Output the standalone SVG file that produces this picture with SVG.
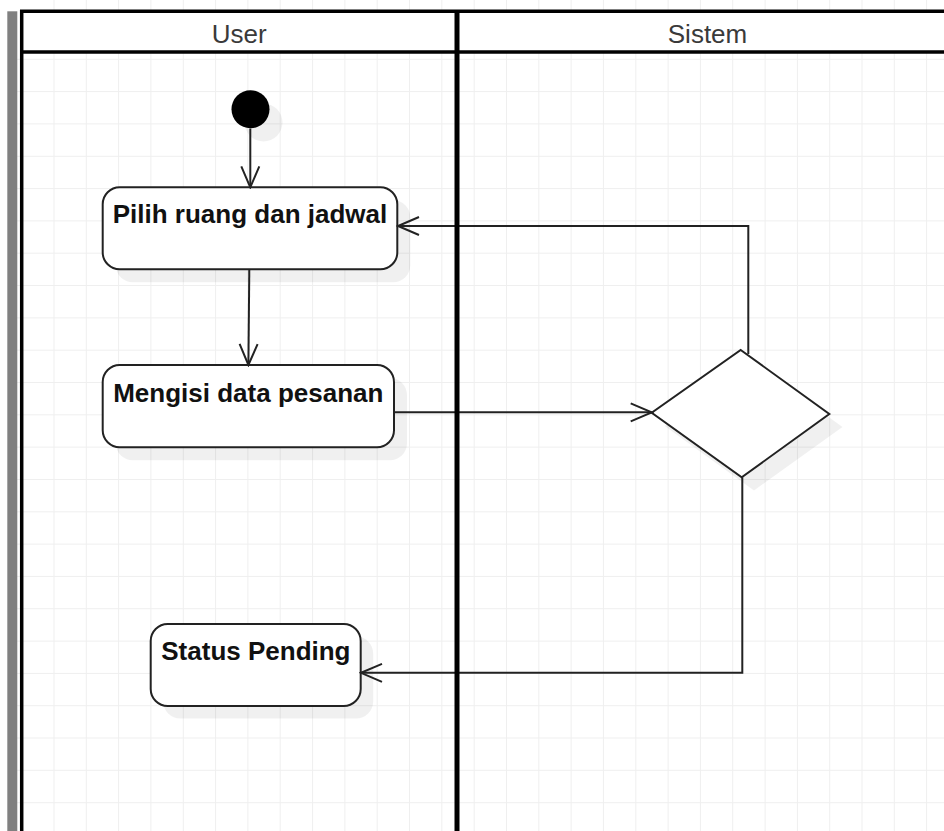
<svg xmlns="http://www.w3.org/2000/svg" width="944" height="831" viewBox="0 0 944 831">
  <defs>
    <style>
      .grid { stroke: #efefef; stroke-width: 1; fill: none; }
      .border { stroke: #000; fill: none; }
      .lanehdr { font-family: "Liberation Sans", Arial, sans-serif; font-size: 26px; fill: #3a3a3a; text-anchor: middle; }
      .node { fill: #fff; stroke: #222; stroke-width: 2; }
      .shadow { fill: #000; fill-opacity: 0.06; stroke: none; }
      .label { font-family: "Liberation Sans", Arial, sans-serif; font-size: 26px; font-weight: bold; fill: #111; text-anchor: middle; }
      .edge { fill: none; stroke: #222; stroke-width: 2; }
    </style>
    <marker id="open" markerUnits="userSpaceOnUse" viewBox="0 0 24 22" markerWidth="24" markerHeight="22" refX="22" refY="11" orient="auto">
      <path d="M1,2 L22,11 L1,20" fill="none" stroke="#222" stroke-width="2"/>
    </marker>
  </defs>

  <rect x="0" y="0" width="944" height="831" fill="#fff"/>
  <g id="grid">
    <path class="grid" d="M54,0V831 M86.3,0V831 M118.6,0V831 M150.9,0V831 M183.3,0V831 M215.6,0V831 M247.9,0V831 M280.2,0V831 M312.6,0V831 M344.9,0V831 M377.2,0V831 M409.5,0V831 M441.8,0V831 M474.2,0V831 M506.5,0V831 M538.8,0V831 M571.1,0V831 M603.4,0V831 M635.8,0V831 M668.1,0V831 M700.4,0V831 M732.7,0V831 M765.1,0V831 M797.4,0V831 M829.7,0V831 M862,0V831 M894.3,0V831 M926.6,0V831 M17,59.3H944 M17,91.6H944 M17,123.9H944 M17,156.3H944 M17,188.6H944 M17,220.9H944 M17,253.2H944 M17,285.5H944 M17,317.9H944 M17,350.2H944 M17,382.5H944 M17,414.8H944 M17,447.1H944 M17,479.5H944 M17,511.8H944 M17,544.1H944 M17,576.4H944 M17,608.7H944 M17,641.1H944 M17,673.4H944 M17,705.7H944 M17,738H944 M17,770.3H944 M17,802.7H944"/>
  </g>

  <g id="pool">
    <rect x="7.3" y="11.3" width="10" height="820" fill="#808080"/>
    <rect x="21.7" y="11.3" width="940" height="40.7" fill="#fff"/>
    <path class="border" stroke-width="3.5" d="M21.7,831 V11.3 H944"/>
    <path class="border" stroke-width="3.5" d="M21.7,52 H944"/>
  </g>

  <g id="lane-user">
    <text class="lanehdr" x="239.3" y="42.5">User</text>
  </g>
  <g id="lane-sistem">
    <text class="lanehdr" x="707.5" y="42.5">Sistem</text>
  </g>

  <g id="start">
    <circle class="shadow" cx="263.5" cy="122.5" r="19"/>
    <circle cx="250.5" cy="109.3" r="19" fill="#000"/>
  </g>

  <g id="pilih">
    <rect class="shadow" x="115.7" y="200.3" width="294.6" height="82" rx="17"/>
    <rect class="node" x="102.7" y="187.3" width="294.6" height="82" rx="17"/>
    <text class="label" x="250" y="222.7">Pilih ruang dan jadwal</text>
  </g>

  <g id="mengisi">
    <rect class="shadow" x="115.7" y="378" width="291.3" height="82.3" rx="17"/>
    <rect class="node" x="102.7" y="365" width="291.3" height="82.3" rx="17"/>
    <text class="label" x="248.3" y="401.7">Mengisi data pesanan</text>
  </g>

  <g id="decision">
    <polygon class="shadow" points="754,363 842.5,427 754,490.5 664.7,426"/>
    <polygon class="node" points="740.7,350 829.3,414 741.7,477.3 651.7,412.7"/>
  </g>

  <g id="status">
    <rect class="shadow" x="163.2" y="636.5" width="210" height="82" rx="17"/>
    <rect class="node" x="150.7" y="624" width="210" height="82" rx="17"/>
    <text class="label" x="255.9" y="660">Status Pending</text>
  </g>

  <g id="connectors">
    <path class="edge" d="M250.3,128.5 V187.3" marker-end="url(#open)"/>
    <path class="edge" d="M249.3,269.3 L248.4,365" marker-end="url(#open)"/>
    <path class="edge" d="M394,412.3 H651.7" marker-end="url(#open)"/>
    <path class="edge" d="M748.3,354 V226 H398" marker-end="url(#open)"/>
    <path class="edge" d="M742.3,477.3 V672.8 H361" marker-end="url(#open)"/>
  </g>

  <g id="divider">
    <path class="border" stroke-width="5" d="M457,11.3 V831"/>
  </g>
</svg>
